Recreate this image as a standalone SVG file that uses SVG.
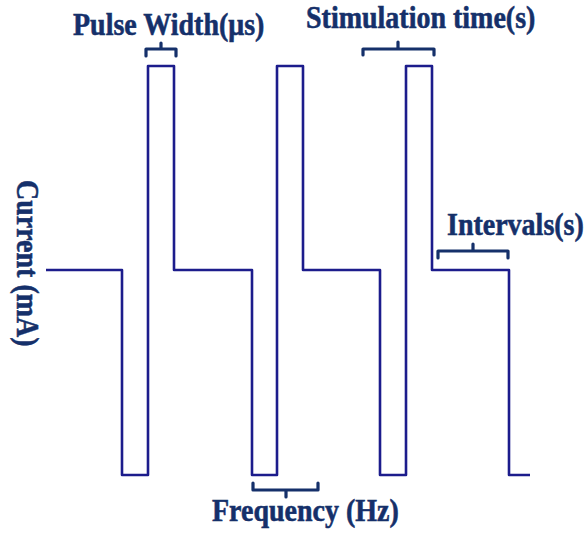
<svg xmlns="http://www.w3.org/2000/svg" width="586" height="533" viewBox="0 0 586 533">
  <style>
    .label { font-family: "Liberation Serif", "Times New Roman", serif; font-weight: bold; font-size: 28px; fill: #15306a; stroke: #15306a; stroke-width: 0.5; }
    .wave { fill: none; stroke: #1c1c8c; stroke-width: 2.6; stroke-linejoin: round; }
    .brace { fill: none; stroke: #15306a; stroke-width: 3.2; stroke-linejoin: round; stroke-linecap: round; }
  </style>
  <rect width="586" height="533" fill="#ffffff"/>

  <!-- biphasic pulse train -->
  <g id="connectors">
    <path id="waveform" class="wave" d="M46,270 H122 V475 H148 V66 H174 V270 H252 V475 H277 V66 H303 V270 H380 V475 H406 V66 H432 V270 H509 V475 H530"/>
  </g>

  <g id="pulse-width">
    <path class="brace" d="M146,56 V49 H176 V56 M161,49 V43"/>
    <text class="label" transform="translate(73,35) scale(1,1.1)">Pulse Width(μs)</text>
  </g>

  <g id="stimulation-time">
    <path class="brace" d="M363,55 V49 H434 V55 M398,49 V42"/>
    <text class="label" transform="translate(306,28) scale(1,1.1)">Stimulation time(s)</text>
  </g>

  <g id="intervals">
    <path class="brace" d="M438,258 V251 H508 V258 M473,251 V244"/>
    <text class="label" transform="translate(447,235) scale(1,1.1)">Intervals(s)</text>
  </g>

  <g id="frequency">
    <path class="brace" d="M253,483 V490 H318 V483 M286,490 V497"/>
    <text class="label" transform="translate(212,521) scale(1,1.1)">Frequency (Hz)</text>
  </g>

  <g id="current-axis">
    <text class="label" transform="translate(17,180) rotate(90) scale(1,1.1)">Current (mA)</text>
  </g>
</svg>
